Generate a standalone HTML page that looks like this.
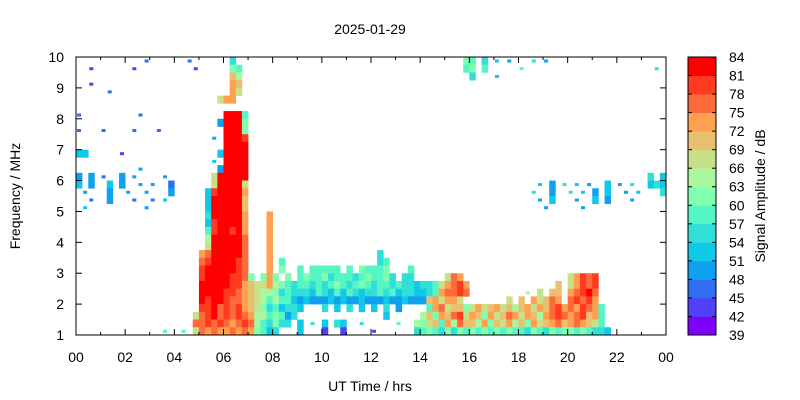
<!DOCTYPE html>
<html><head><meta charset="utf-8"><style>
html,body{margin:0;padding:0;background:#fff;}
svg{display:block;font-family:"Liberation Sans",sans-serif;}
</style></head><body>
<svg id="chart" width="800" height="400" viewBox="0 0 800 400">
<text x="370" y="34" font-size="14" text-anchor="middle">2025-01-29</text>
<g id="cells"></g>
<g id="axes"></g>
<g id="cbar"></g>
<text x="370" y="391" font-size="14" text-anchor="middle">UT Time / hrs</text>
<text transform="translate(20,196) rotate(-90)" font-size="14" text-anchor="middle">Frequency / MHz</text>
<text transform="translate(765,196) rotate(-90)" font-size="14" text-anchor="middle">Signal Amplitude / dB</text>
</svg>
<script>
// time bins: 0.25 h starting at 0; frequency rows: 0.25 MHz from 10 MHz downward
const timeStep = 0.25;
const freqTop = 10;
const freqStep = 0.25;
// amplitude level per cell: '.' none, 0-9,a-e => 39+3k .. 42+3k dB
const rows = [
"........ ...2.... ..2..... .5...... ........ ........ ........ .......7 6.5.4.3. ..5.3... ........ ........",
"..1..... .1...... ...1.... .76..... ........ ........ ........ .......6 7.6..... 6....... ........ ......5.",
"........ ........ ........ .a8..... ........ ........ ........ ........ 5...4... ........ ........ ........",
"..1..... ........ ........ .ba..... ........ ........ ........ ........ ........ ........ ........ ........",
".....2.. ........ ........ .b9..... ........ ........ ........ ........ ........ ........ ........ ........",
"........ ........ .......9 bb...... ........ ........ ........ ........ ........ ........ ........ ........",
"........ ........ ........ ........ ........ ........ ........ ........ ........ ........ ........ ........",
"2....... ..2..... ........ eee6.... ........ ........ ........ ........ ........ ........ ........ ........",
"........ ........ .......3 eee7.... ........ ........ ........ ........ ........ ........ ........ ........",
"2...2... .2...2.. ........ eee7.... ........ ........ ........ ........ ........ ........ ........ ........",
"........ ........ ......3. eeed.... ........ ........ ........ ........ ........ ........ ........ ........",
"........ ........ ........ eeee.... ........ ........ ........ ........ ........ ........ ........ ........",
"44.....1 ........ .......4 eeee.... ........ ........ ........ ........ ........ ........ ........ ........",
"........ ........ ......4. eeee.... ........ ........ ........ ........ ........ ........ ........ ........",
"........ ..3..... .......3 eeee.... ........ ........ ........ ........ ........ ........ ........ ........",
"3.3.2..3 .3....3. ......9e eeee.... ........ ........ ........ ........ ........ ........ ........ .....5.4",
"4.3..4.3 ..3.3..2 ......9e eee9.... ........ ........ ........ ........ ........ ...4.3.5 .4.3..4. 3.5..454",
".3...3.. 3..3...3 .....4de eeeb.... ........ ........ ........ ........ ........ ..5..3.. 5.4.3.4. .3.4...5",
"..2..3.. .2..2.4. .....4ee eeea.... ........ ........ ........ ........ ........ ...3.4.. .3..4.3. ..3.....",
".4...... ...3.... .....4ee eeea.... ........ ........ ........ ........ ........ ....3... ..3..... ........",
"........ ........ .....5ee eeeb...b ........ ........ ........ ........ ........ ........ ........ ........",
"........ ........ .....4de eeeb...b ........ ........ ........ ........ ........ ........ ........ ........",
"........ ........ .....6de edeb...b ........ ........ ........ ........ ........ ........ ........ ........",
"........ ........ .....8ee eeec...b ........ ........ ........ ........ ........ ........ ........ ........",
"........ ........ .....9ee eeec...b ........ ........ ........ ........ ........ ........ ........ ........",
"........ ........ ....bcee eeec...b ........ ........ .5...... ........ ........ ........ ........ ........",
"........ ........ ....cdee eedc...b .6...... ........ .56..... ........ ........ ........ ........ ........",
"........ ........ ....deee eedc...b .7..6.66 666.6.76 667...6. ........ ........ ........ ........ ........",
"........ ........ ....deee eddc7.7b 7.7.6766 75666567 6675.55. ....9cb. ........ ........ 9bdcd... ........",
"........ ........ ....eeee eddba99b 87656656 56765676 56656554 5569bcdb ........ ......a. 9bdcd... ........",
"........ ........ ....eeee ddcba988 75655546 54646545 56564554 456bccdc ........ .8.9.aa. bcdec... ........",
"........ ........ ....edee dccba986 86643433 34343343 33433433 3ab9bb9. ......9. a.b9acb. cdcdb... ........",
"........ ........ ....ddec dcdba975 64554... 5.4.5.4. 4.5.3... .6bc9aa7 9b9ab9a8 ab9bacdb cbdcb6.. ........",
"........ ........ ...9cdec dcdcb886 7635.... ........ ..4..... 8a7bacd9 ba7b9acb 9ba8bcdc bcdab6.. ........",
"........ ........ ...ccdcd cbcdc865 755.4.5. 4.54..5. ....6..8 79a6b8ca a8b7a9b8 a7b9abca bcba96.. ........",
"........ ......6. .6.9cbcb bcbcb764 5...4... 1..1.... 1......5 67657576 76767676 65765767 7676554. ........"
];
const bandColors = ["#8000ff","#5040f8","#3070f0","#10a0f0","#10c8e8","#30e0d8","#55f5c5","#80ffb0","#a8f8a0","#c8e088","#e8c070","#ffa050","#ff6a3a","#ff3a1e","#ff0000"];
const cbTicks = [39,42,45,48,51,54,57,60,63,66,69,72,75,78,81,84];
const xTicks = ["00","02","04","06","08","10","12","14","16","18","20","22","00"];
const yTicks = [1,2,3,4,5,6,7,8,9,10];

const X0=76,X1=666,Y0=335,Y1=57;
const xScale = t => X0 + t/24*(X1-X0);
const yScale = f => Y0 - (f-1)/9*(Y0-Y1);
const ampLevel = ch => { const v=parseInt(ch,16); return isNaN(v)?-1:v; };
const NS="http://www.w3.org/2000/svg";
function mk(tag, attrs, parent){const e=document.createElementNS(NS,tag);for(const k in attrs)e.setAttribute(k,attrs[k]);parent.appendChild(e);return e;}

const grid = rows.map(r=>r.replace(/ /g,''));
const at = (r,c) => (grid[r] && grid[r][c]) ? ampLevel(grid[r][c]) : -1;
const cells=document.getElementById('cells');
grid.forEach((s,r)=>{
  const fHi=freqTop-r*freqStep, fLo=fHi-freqStep;
  for(let c=0;c<s.length && c<96;c++){
    const k=ampLevel(s[c]); if(k<0||k>14) continue;
    const t0=c*timeStep, t1=t0+timeStep;
    let x=xScale(t0), y=yScale(fHi);
    let w=xScale(t1)-x+0.3, h=yScale(fLo)-y+0.3;
    const isolated = at(r,c-1)<0 && at(r,c+1)<0 && at(r-1,c)<0 && at(r+1,c)<0;
    if(isolated){ x+=1; y+=2.5; w=4; h=3; }
    const rc=mk('rect',{x:x.toFixed(2),y:y.toFixed(2),width:w.toFixed(2),height:h.toFixed(2),fill:bandColors[k]},cells);
    
    
  }
});

const ax=document.getElementById('axes');
const frame=mk('rect',{x:X0,y:Y1,width:X1-X0,height:Y0-Y1,fill:'none',stroke:'#000','stroke-width':1},ax);


for(let h=0;h<=24;h++){
  const x=xScale(h), L=(h%2==0)?6:3;
  mk('line',{x1:x,y1:Y0,x2:x,y2:Y0-L,stroke:'#000'},ax);
  mk('line',{x1:x,y1:Y1,x2:x,y2:Y1+L,stroke:'#000'},ax);
}
xTicks.forEach((lab,i)=>{
  const tx=mk('text',{x:xScale(i*2),y:362,'font-size':14,'text-anchor':'middle'},ax);
  tx.textContent=lab;
  
  
});
yTicks.forEach(f=>{
  const y=yScale(f);
  mk('line',{x1:X0,y1:y,x2:X0+6,y2:y,stroke:'#000'},ax);
  mk('line',{x1:X1,y1:y,x2:X1-6,y2:y,stroke:'#000'},ax);
  const tx=mk('text',{x:X0-12,y:y+5,'font-size':14,'text-anchor':'end'},ax);
  tx.textContent=f;
  
  
});

const cb=document.getElementById('cbar');
const CX=688,CW=28,cbMin=cbTicks[0],cbMax=cbTicks[cbTicks.length-1];
const cy=v=>Y0-(v-cbMin)/(cbMax-cbMin)*(Y0-Y1);
bandColors.forEach((col,i)=>{
  const y0=cy(cbTicks[i+1]), y1=cy(cbTicks[i]);
  const rc=mk('rect',{x:CX,y:y0,width:CW,height:y1-y0+0.4,fill:col},cb);
  
  
});
mk('rect',{x:CX,y:Y1,width:CW,height:Y0-Y1,fill:'none',stroke:'#000'},cb);
cbTicks.forEach(v=>{
  const y=cy(v);
  mk('line',{x1:CX,y1:y,x2:CX+4,y2:y,stroke:'#000'},cb);
  mk('line',{x1:CX+CW,y1:y,x2:CX+CW-4,y2:y,stroke:'#000'},cb);
  const tx=mk('text',{x:729,y:y+5,'font-size':14},cb);
  tx.textContent=v;
  
  
});
</script>
</body></html>
